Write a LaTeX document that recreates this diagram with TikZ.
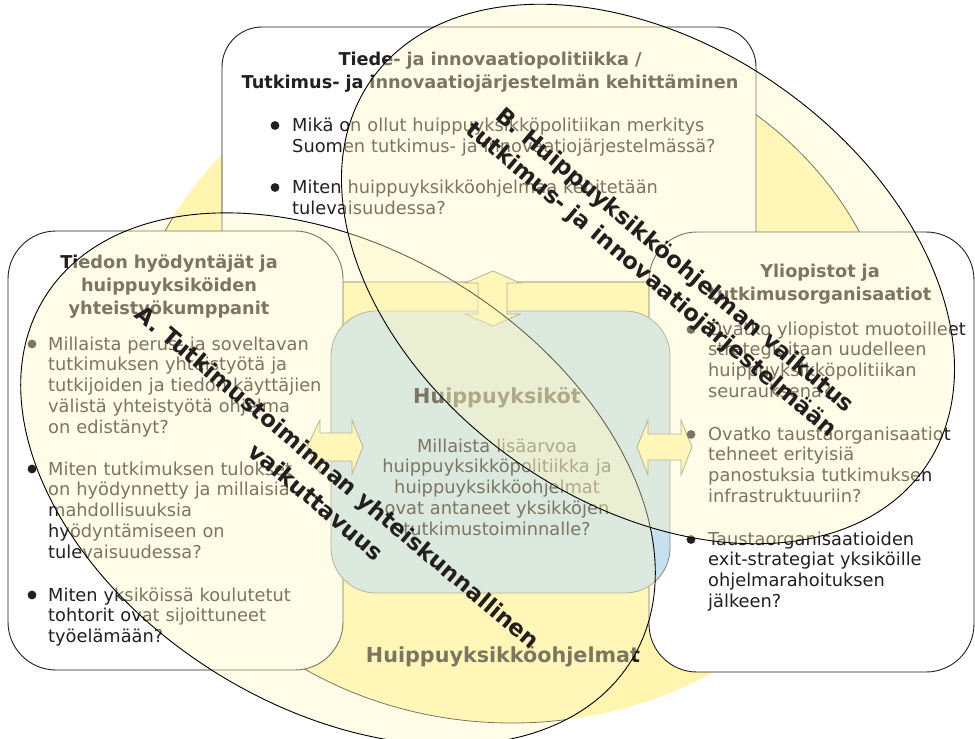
\documentclass[tikz,border=0pt]{standalone}
\usepackage{fontspec}
\setmainfont{DejaVu Sans}
\definecolor{inkc}{HTML}{231F20}
\definecolor{sunc}{RGB}{255,245,175}
\definecolor{boxblue}{RGB}{197,224,241}
\definecolor{veil}{RGB}{255,248,196}
\definecolor{rimgray}{RGB}{135,135,125}
\tikzset{
  panel/.style={draw=inkc, line width=0.9pt, fill=white, rounded corners=48pt},
  core/.style={draw=rimgray, line width=0.8pt, fill=boxblue, rounded corners=45pt},
  dblarrow/.style={draw=rimgray, line width=0.8pt, fill=sunc, line join=miter},
  shapeA/.style={rotate around={-31.7:(338,479)}},
  shapeB/.style={rotate around={-35:(648,274)}},
  veil/.style={fill=veil, fill opacity=0.4, draw=black, line width=0.9pt},
  body/.style={font=\fontsize{17.8}{20.8}\selectfont, text=inkc, inner sep=0pt,
    align=left, anchor=base west},
  boxtitle/.style={font=\bfseries\fontsize{17.7}{23.3}\selectfont, text=inkc,
    inner sep=0pt, align=center, anchor=base},
  bigtitle/.style={font=\bfseries\fontsize{20.7}{24}\selectfont, text=inkc,
    inner sep=0pt, anchor=base},
  lab/.style={font=\bfseries\fontsize{22.8}{27}\selectfont, text=inkc,
    inner sep=0pt, rotate=-40},
  dot/.style={fill=inkc}
}
\begin{document}
\begin{tikzpicture}[x=1pt,y=-1pt]
\useasboundingbox (0,0) rectangle (975,739);

% programme disc; its rim only shows inside the two impact ellipses
\path[fill=sunc] (512,380) ellipse [x radius=385pt, y radius=343pt];
\begin{scope}
  \clip[shapeA] (338,479) ellipse [x radius=345pt, y radius=229pt];
  \draw[inkc, line width=0.8pt] (512,380) ellipse [x radius=385pt, y radius=343pt];
\end{scope}
\begin{scope}
  \clip[shapeB] (648,274) ellipse [x radius=338pt, y radius=229pt];
  \draw[inkc, line width=0.8pt] (512,380) ellipse [x radius=385pt, y radius=343pt];
\end{scope}

% three stakeholder panels
\draw[panel, rounded corners=40pt] (222,27) rectangle (756,282);
\draw[panel] (8,231) rectangle (343,670);
\draw[panel] (649,232) rectangle (974,672);

% centres of excellence
\draw[core] (331,311) rectangle (670,593);

% two-way arrows
\draw[dblarrow] (493,271) -- (520,283) -- (507,283) -- (507,314) -- (520,314)
  -- (493,326) -- (465,314) -- (478,314) -- (478,283) -- (465,283) -- cycle;
\draw[dblarrow] (307,447) -- (320,420) -- (320,433) -- (352,433) -- (352,420)
  -- (363,447) -- (352,474) -- (352,461) -- (320,461) -- (320,474) -- cycle;
\draw[dblarrow] (637,447) -- (648,420) -- (648,434) -- (681,434) -- (681,420)
  -- (692,447) -- (681,475) -- (681,460) -- (648,460) -- (648,475) -- cycle;

% top panel
\node[boxtitle, text width=540pt] (toptitle) at (490,65)
  {Tiede- ja innovaatiopolitiikka /\\Tutkimus- ja innovaatiojärjestelmän kehittäminen};
\fill[dot] (275,125.5) circle [radius=4.4pt];
\node[body, text width=460pt] (topq1) at (292,131.5)
  {Mikä on ollut huippuyksikköpolitiikan merkitys\\Suomen tutkimus- ja innovaatiojärjestelmässä?};
\fill[dot] (275,187.5) circle [radius=4.4pt];
\node[body, text width=460pt] (topq2) at (292,193.5)
  {Miten huippuyksikköohjelmaa kehitetään\\tulevaisuudessa?};

% left panel
\node[boxtitle, text width=300pt] (lefttitle) at (169,268)
  {Tiedon hyödyntäjät ja\\huippuyksiköiden\\yhteistyökumppanit};
\fill[dot] (32,344) circle [radius=4.4pt];
\node[body, text width=290pt] (leftq1) at (48,350)
  {Millaista perus- ja soveltavan\\tutkimuksen yhteistyötä ja\\tutkijoiden ja tiedon käyttäjien\\välistä yhteistyötä ohjelma\\on edistänyt?};
\fill[dot] (32,469) circle [radius=4.4pt];
\node[body, text width=290pt] (leftq2) at (48,475)
  {Miten tutkimuksen tulokset\\on hyödynnetty ja millaisia\\mahdollisuuksia\\hyödyntämiseen on\\tulevaisuudessa?};
\fill[dot] (32,595) circle [radius=4.4pt];
\node[body, text width=290pt] (leftq3) at (48,601)
  {Miten yksiköissä koulutetut\\tohtorit ovat sijoittuneet\\työelämään?};

% right panel
\node[boxtitle, text width=300pt] (righttitle) at (820,277)
  {Yliopistot ja\\tutkimusorganisaatiot};
\fill[dot] (691,329.5) circle [radius=4.4pt];
\node[body, text width=290pt] (rightq1) at (708,335)
  {Ovatko yliopistot muotoilleet\\strategioitaan uudelleen\\huippuyksikköpolitiikan\\seurauksena?};
\fill[dot] (691,434.5) circle [radius=4.4pt];
\node[body, text width=290pt] (rightq2) at (708,440)
  {Ovatko taustaorganisaatiot\\tehneet erityisiä\\panostuksia tutkimuksen\\infrastruktuuriin?};
\fill[dot] (691,539.5) circle [radius=4.4pt];
\node[body, text width=290pt] (rightq3) at (708,545)
  {Taustaorganisaatioiden\\exit-strategiat yksiköille\\ohjelmarahoituksen\\jälkeen?};

% centre panel
\node[bigtitle] (coretitle) at (497,403) {Huippuyksiköt};
\node[body, align=center, anchor=base, text width=320pt] (coreq) at (497,452)
  {Millaista lisäarvoa\\huippuyksikköpolitiikka ja\\huippuyksikköohjelmat\\ovat antaneet yksikköjen\\tutkimustoiminnalle?};
\node[bigtitle] (progtitle) at (503,662) {Huippuyksikköohjelmat};

% impact ellipses
\path[veil, shapeA] (338,479) ellipse [x radius=345pt, y radius=229pt];
\path[veil, shapeB] (648,274) ellipse [x radius=338pt, y radius=229pt];

% impact labels
\node[lab] (labA1) at (336.5,478.5) {A. Tutkimustoiminnan yhteiskunnallinen};
\node[lab] (labA2) at (316.5,501.5) {vaikuttavuus};
\node[lab] (labB1) at (674,261) {B. Huippuyksikköohjelman vaikutus};
\node[lab] (labB2) at (651,280) {tutkimus- ja innovaatiojärjestelmään};
\end{tikzpicture}
\end{document}
